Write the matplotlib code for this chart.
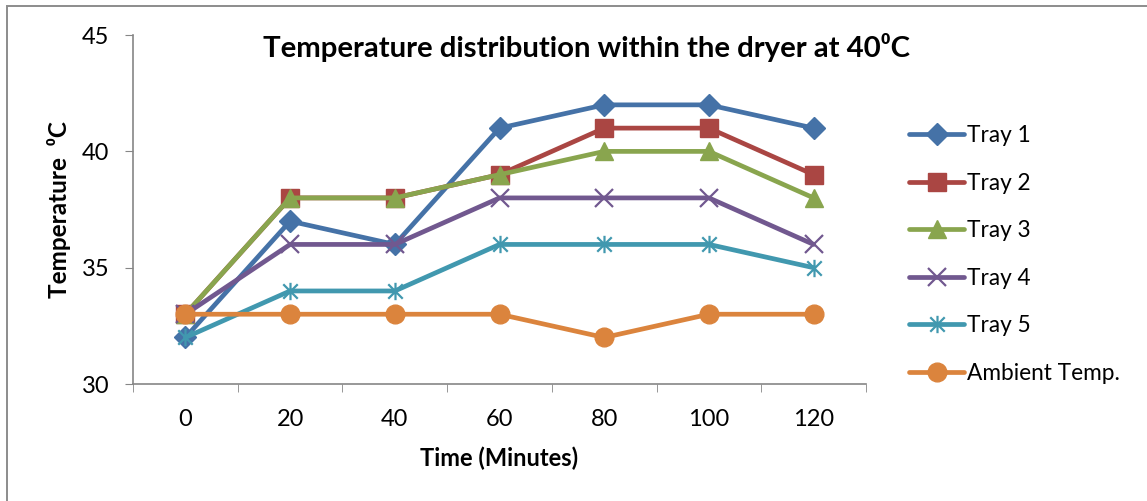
import matplotlib
matplotlib.use("Agg")
import matplotlib.pyplot as plt
from matplotlib.path import Path

times = ["0", "20", "40", "60", "80", "100", "120"]
tray1 = [32, 37, 36, 41, 42, 42, 41]
tray2 = [33, 38, 38, 39, 41, 41, 39]
tray3 = [33, 38, 38, 39, 40, 40, 38]
tray4 = [33, 36, 36, 38, 38, 38, 36]
tray5 = [32, 34, 34, 36, 36, 36, 35]
ambient = [33, 33, 33, 33, 32, 33, 33]
labels = ["Tray 1", "Tray 2", "Tray 3", "Tray 4", "Tray 5", "Ambient Temp."]

colors = ["#4572A7", "#AA4643", "#89A54E", "#71588F", "#4198AF", "#DB843D"]

# asterisk marker: an x with a vertical stroke
star_path = Path(
    [(-1, -1), (1, 1), (-1, 1), (1, -1), (0, -1.2), (0, 1.2)],
    [Path.MOVETO, Path.LINETO, Path.MOVETO, Path.LINETO, Path.MOVETO, Path.LINETO],
)
markers = ["D", "s", "^", "x", star_path, "o"]
msizes = [11.5, 13, 13.5, 13, 12.5, 13.5]

plt.rcParams["font.family"] = ["Lato", "DejaVu Sans"]

fig = plt.figure(figsize=(11.47, 5.01), dpi=100)
# outer chart frame (left and top edges visible)
fig.patches.append(plt.Rectangle((6.5 / 1147, -0.1), 1.2, 1.1 - 5.5 / 501,
                                 transform=fig.transFigure, fill=False,
                                 edgecolor="#8c8c8c", linewidth=1.4))
ax = fig.add_axes([0.116, 0.2335, 0.639, 0.6965])

x = list(range(len(times)))
series = [tray1, tray2, tray3, tray4, tray5, ambient]
handles = []
for vals, c, m, ms, lab in zip(series, colors, markers, msizes, labels):
    mew = 1.6 if (m == "x" or m is star_path) else 1.0
    (h,) = ax.plot(x, vals, color=c, linewidth=3.4, marker=m, markersize=ms,
                   markerfacecolor=c, markeredgecolor=c, markeredgewidth=mew,
                   label=lab, solid_capstyle="round", zorder=3)
    handles.append(h)

ax.set_xlim(-0.5, len(times) - 0.5)
ax.set_ylim(30, 45)
ax.set_yticks([30, 35, 40, 45])
ax.set_xticks(x)
ax.set_xticklabels(times)
ax.set_xticks([i - 0.5 for i in range(len(times) + 1)], minor=True)

for side in ("top", "right"):
    ax.spines[side].set_visible(False)
for side in ("left", "bottom"):
    ax.spines[side].set_color("#868686")
    ax.spines[side].set_linewidth(1.2)

ax.tick_params(axis="y", which="major", direction="out", length=6, color="#868686",
               labelsize=17, pad=11)
ax.tick_params(axis="x", which="major", length=0, labelsize=17, pad=18)
ax.tick_params(axis="x", which="minor", direction="out", length=6, color="#868686")

ax.set_xlabel("Time (Minutes)", fontsize=17, fontweight="bold", labelpad=12)
ax.set_ylabel("Temperature  \u2070C", fontsize=17.5, fontweight="bold")
ax.yaxis.set_label_coords(-0.084, 0.5)
fig.text(0.511, 0.905, "Temperature distribution within the dryer at 40\u2070C",
         fontsize=21.2, fontweight="bold", ha="center", va="center")

leg = fig.legend(handles=handles, labels=labels, loc="center left",
                 bbox_to_anchor=(0.7925, 1 - 254.5 / 501), frameon=False, fontsize=16.3,
                 handlelength=2.45, handletextpad=0.12, labelspacing=1.17,
                 borderaxespad=0, borderpad=0)

fig.savefig("out.png", dpi=100)
